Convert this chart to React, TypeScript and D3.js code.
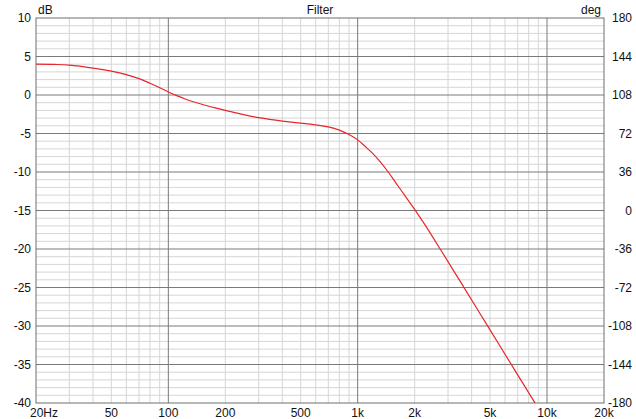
import React from "react";
import * as d3 from "d3";

const freqs = [20, 25, 30, 40, 50, 60, 70, 80, 90, 100, 110, 120, 130, 150, 175, 200, 250, 300, 400, 500, 600, 700, 800, 900, 1000, 1100, 1200, 1300, 1450, 1600, 1700, 1850, 2000, 2200, 2400, 2800, 3500, 4400, 5600, 7000, 8650, 10000];
const gainDb = [4.0, 3.97, 3.88, 3.5, 3.1, 2.65, 2.12, 1.52, 0.95, 0.4, -0.05, -0.42, -0.75, -1.2, -1.64, -2.0, -2.55, -2.95, -3.4, -3.65, -3.88, -4.15, -4.56, -5.14, -5.83, -6.72, -7.59, -8.53, -10.0, -11.5, -12.4, -13.69, -14.85, -16.38, -17.81, -20.45, -24.31, -28.28, -32.46, -36.34, -40.01, -42.5];

const xTickValues = [20, 50, 100, 200, 500, 1000, 2000, 5000, 10000, 20000];
const xTickLabels = ["20Hz", "50", "100", "200", "500", "1k", "2k", "5k", "10k", "20k"];
const yTicks = [10, 5, 0, -5, -10, -15, -20, -25, -30, -35, -40];
const degTicks = ["180", "144", "108", "72", "36", "0", "-36", "-72", "-108", "-144", "-180"];

const W = 636, H = 419;
const L = 36, R = 604, T = 18, B = 403;

export default function App() {
  const x = d3.scaleLog().domain([20, 20000]).range([L, R]);
  const y = d3.scaleLinear().domain([-40, 10]).range([B, T]);

  const minorX: number[] = [];
  [10, 100, 1000, 10000].forEach((dec) => {
    for (let k = 2; k <= 9; k++) {
      const f = dec * k;
      if (f > 20 && f < 20000) minorX.push(f);
    }
  });
  const majorX = [100, 1000, 10000];
  const minorY: number[] = [];
  for (let v = -39; v < 10; v++) if (v % 5 !== 0) minorY.push(v);
  const majorY = yTicks.filter((v) => v !== 10 && v !== -40);

  const data = freqs.map((f, i) => [f, gainDb[i]] as [number, number]);
  const line = d3
    .line<[number, number]>()
    .x((d) => x(d[0]))
    .y((d) => y(d[1]))
    .curve(d3.curveCatmullRom.alpha(0.5));

  const font = "'Liberation Sans', Arial, sans-serif";
  return (
    <svg width={W} height={H} style={{ position: "absolute", left: 0, top: 0, background: "#fff" }} fontFamily={font} fontSize={12}>
      <defs>
        <clipPath id="plot">
          <rect x={L} y={T} width={R - L} height={B - T} />
        </clipPath>
      </defs>
      <rect x={0} y={0} width={W} height={H} fill="#fff" />
      {minorX.map((f) => (
        <line key={"mx" + f} x1={x(f)} x2={x(f)} y1={T} y2={B} stroke="#d6d6d6" strokeWidth={1} />
      ))}
      {minorY.map((v) => (
        <line key={"my" + v} x1={L} x2={R} y1={y(v)} y2={y(v)} stroke="#d6d6d6" strokeWidth={1} />
      ))}
      {majorX.map((f) => (
        <line key={"Mx" + f} x1={x(f)} x2={x(f)} y1={T} y2={B} stroke="#7a7a7a" strokeWidth={1} />
      ))}
      {majorY.map((v) => (
        <line key={"My" + v} x1={L} x2={R} y1={y(v)} y2={y(v)} stroke="#7a7a7a" strokeWidth={1} />
      ))}
      <rect x={L} y={T} width={R - L} height={B - T} fill="none" stroke="#6e6e6e" strokeWidth={1} />
      <path d={line(data) || ""} fill="none" stroke="#e8262a" strokeWidth={1.2} clipPath="url(#plot)" />
      {yTicks.map((v) => (
        <text key={"yl" + v} x={31} y={y(v)} dy="0.35em" textAnchor="end" fill="#111">
          {v}
        </text>
      ))}
      {yTicks.map((v, i) => (
        <text key={"dl" + v} x={632} y={y(v)} dy="0.35em" textAnchor="end" fill="#111">
          {degTicks[i]}
        </text>
      ))}
      {xTickValues.map((f, i) => (
        <text
          key={"xl" + f}
          x={i === 0 ? 30 : x(f)}
          y={417}
          textAnchor={i === 0 ? "start" : "middle"}
          fill="#111"
        >
          {xTickLabels[i]}
        </text>
      ))}
      <text x={38} y={14} fill="#111">dB</text>
      <text x={601} y={14} textAnchor="end" fill="#111">deg</text>
      <text x={(L + R) / 2} y={14} textAnchor="middle" fill="#111">Filter</text>
    </svg>
  );
}
